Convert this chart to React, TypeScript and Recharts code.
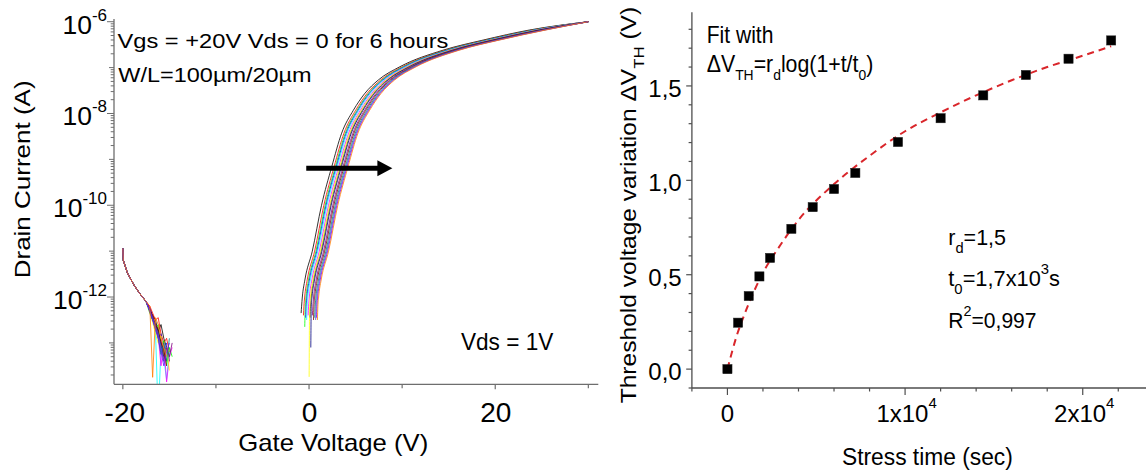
import { useLayoutEffect, useRef, useState } from "react";
import {
  ComposedChart,
  Line,
  ReferenceLine,
  Scatter,
  XAxis,
  YAxis,
} from "recharts";

const FONT = '"Liberation Sans", Arial, Helvetica, sans-serif';

// ---- left panel: transfer curves (Id vs Vg), one per stress step ----
const CURVE_COLORS = [
  "#000000", "#ff0000", "#00ff00", "#0000ff", "#00ffff",
  "#ff00ff", "#ffff00", "#808000", "#000080", "#800080",
  "#800000", "#008080", "#4060d0", "#8000ff", "#ff8000",
];
// threshold shift of each curve (V)
const CURVE_SHIFT = [0, 0.25, 0.39, 0.49, 0.59, 0.75, 0.86, 0.96, 1.04, 1.21, 1.33, 1.46, 1.56, 1.65, 1.75];

// on-branch of the unstressed curve: Vg (V) and log10(Id)
const ON_START_V = -0.85;
const ON_START_LOG = [-12.35, -12.4, -12.65, -12.45, -12.5, -12.4, -13.74, -12.45, -13.1, -12.4, -12.5, -12.45, -12.5, -12.45, -12.5];
const ON_V = [-0.8, -0.72, -0.45, 0.35, 1.34, 2.44, 3.5, 4.76, 6.0, 7.44, 9.77, 14.4, 18.7, 23.7];
const ON_LOG = [-12.2, -12.0, -11.63, -11.0, -10.0, -9.16, -8.43, -7.93, -7.56, -7.27, -6.98, -6.62, -6.4, -6.18];
const ON_END = { v: 30, log: -6.0 };

// off-branch (negative gate voltage), shared head and noisy tails
const OFF_HEAD_V = [-20.0, -19.95, -19.5, -18.8, -18.2, -17.5];
const OFF_HEAD_LOG = [-10.94, -11.2, -11.48, -11.74, -11.92, -12.1];
const TAIL_V = [-17.1, -16.8, -16.5, -16.2, -15.9, -15.6, -15.3, -15.0, -14.7];
const TAIL_LOG = [
  [-12.25, -12.4, -12.5, -12.75, -12.6, -12.9, -13.1, -13.4],
  [-12.2, -12.35, -12.5, -12.45, -12.8, -13.0, -12.9, -13.2],
  [-12.3, -12.45, -12.7, -12.6, -13.2, -12.95, -13.5, -13.1, -13.3],
  [-12.25, -12.45, -12.6, -12.9, -12.8, -13.3, -13.0],
  [-12.3, -12.5, -12.7, -14.6, -13.1, -13.35, -13.8, -13.2],
  [-12.3, -12.5, -12.7, -12.85, -13.5, -13.0, -13.85, -13.3, -13.1],
  [-12.35, -12.55, -12.8, -13.0, -12.85, -13.3, -13.1, -13.6],
  [-12.3, -12.45, -12.65, -12.8, -13.0, -13.2, -13.4],
  [-12.3, -12.5, -12.6, -12.75, -13.05, -13.3],
  [-12.25, -12.45, -12.6, -12.85, -12.95, -13.4, -13.1, -13.3, -13.0],
  [-12.3, -12.4, -12.6, -12.7, -13.0, -13.15, -13.5],
  [-12.35, -12.5, -12.7, -12.9, -13.25, -13.0, -13.4, -12.9],
  [-12.3, -12.45, -12.65, -12.8, -13.1, -13.4],
  [-12.3, -12.5, -12.7, -12.9, -13.2, -13.5, -13.2, -13.0],
  [-12.2, -13.75, -12.45, -12.6, -12.9, -13.1, -13.3],
];

const LEFT_X_LABELED = [-20, 0, 20];
const LEFT_X_MINOR = [-10, 10, 30];
const LEFT_Y_EXPONENTS = [-6, -8, -10, -12];
const ARROW_V = [-0.3, 8.95];
const ARROW_I = 6.4e-10;

// ---- right panel: threshold shift vs stress time ----
const STRESS_T = [0, 600, 1200, 1800, 2400, 3600, 4800, 6000, 7200, 9600, 12000, 14400, 16800, 19200, 21600];
const DVTH = [0, 0.246, 0.387, 0.491, 0.589, 0.743, 0.858, 0.954, 1.039, 1.203, 1.329, 1.45, 1.558, 1.644, 1.741];
const FIT_T = [0, 500, 1000, 2000, 3000, 4000, 6000, 8000, 10000, 12000, 14000, 16000, 18000, 20000, 21600];
const FIT_V = [0, 0.17, 0.3, 0.51, 0.66, 0.79, 0.98, 1.13, 1.26, 1.36, 1.45, 1.53, 1.6, 1.66, 1.71];

const RIGHT_Y_MAJOR = [0, 0.5, 1.0, 1.5];
const RIGHT_Y_LABELS = ["0,0", "0,5", "1,0", "1,5"];
const RIGHT_X_MAJOR = [0, 10000, 20000];
const RIGHT_X_LABELS = ["0", "1x10", "2x10"];
const RIGHT_X_EXP = ["", "4", "4"];

const LEFT_AXIS = "#6e6e6e";
const RIGHT_AXIS = "#4e4e4e";
const LEFT = { left: 114, bottom: 384.3 };
const RIGHT = { left: 91.9, bottom: 388 };

const onSeries = CURVE_SHIFT.map((s, k) => [
  { v: ON_START_V + s, i: Math.pow(10, ON_START_LOG[k]) },
  ...ON_V.map((v, j) => ({ v: v + s, i: Math.pow(10, ON_LOG[j]) })),
  { v: ON_END.v, i: Math.pow(10, ON_END.log) },
]);
const offSeries = TAIL_LOG.map((tail) => [
  ...OFF_HEAD_V.map((v, j) => ({ v, i: Math.pow(10, OFF_HEAD_LOG[j]) })),
  ...tail.map((l, j) => ({ v: TAIL_V[j], i: Math.pow(10, l) })),
]);

const yDomain: [number, number] = [1.253e-14, 1.146e-6];
const leftYTicks: number[] = [];
for (let e = -14; e <= -6; e++) {
  for (let m = 1; m <= 9; m++) {
    const val = m * Math.pow(10, e);
    if (val >= yDomain[0] && val <= yDomain[1]) leftYTicks.push(val);
  }
}

const dvthData = STRESS_T.map((t, i) => ({ t, v: DVTH[i] }));
const fitData = FIT_T.map((t, i) => ({ t, v: FIT_V[i] }));
const rightXTicks: number[] = [];
for (let t = -2000; t <= 24000; t += 2000) rightXTicks.push(t);
const rightYTicks: number[] = [];
for (let k = -1; k <= 18; k++) rightYTicks.push(k / 10);

function LeftXTick(props: any) {
  const { x, payload } = props;
  const v = payload.value;
  const labeled = LEFT_X_LABELED.includes(v);
  return (
    <g>
      <line x1={x} x2={x} y1={LEFT.bottom} y2={LEFT.bottom + (labeled ? 5 : 4)} stroke={LEFT_AXIS} strokeWidth={1.2} />
      {labeled && (
        <text x={x + (v < 0 ? 2 : 0.5)} y={422} textAnchor="middle" fontSize={28} fontFamily={FONT} fill="#000">
          {String(v)}
        </text>
      )}
    </g>
  );
}

function LeftYTick(props: any) {
  const { y, payload } = props;
  const val = payload.value;
  const e = Math.round(Math.log10(val));
  const decade = Math.abs(val / Math.pow(10, e) - 1) < 1e-6;
  const labeled = decade && LEFT_Y_EXPONENTS.includes(e);
  const len = labeled ? 7 : decade ? 5 : 3.3;
  return (
    <g>
      <line x1={LEFT.left - len} x2={LEFT.left} y1={y} y2={y} stroke={LEFT_AXIS} strokeWidth={1} />
      {labeled && (
        <text x={107} y={y + 12} textAnchor="end" fontSize={26.5} fontFamily={FONT} fill="#000">
          10
          <tspan dy={-13} fontSize={17}>
            {String(e)}
          </tspan>
        </text>
      )}
    </g>
  );
}

function RightXTick(props: any) {
  const { x, payload } = props;
  const idx = RIGHT_X_MAJOR.indexOf(payload.value);
  return (
    <g>
      <line x1={x} x2={x} y1={RIGHT.bottom} y2={RIGHT.bottom + (idx >= 0 ? 7 : 3.5)} stroke={RIGHT_AXIS} strokeWidth={1.2} />
      {idx >= 0 && (
        <text x={x + (idx > 0 ? 1.5 : 0)} y={422} textAnchor="middle" fontSize={24} fontFamily={FONT} fill="#000">
          {RIGHT_X_LABELS[idx]}
          {RIGHT_X_EXP[idx] && (
            <tspan dy={-14} fontSize={15}>
              {RIGHT_X_EXP[idx]}
            </tspan>
          )}
        </text>
      )}
    </g>
  );
}

function RightYTick(props: any) {
  const { y, payload } = props;
  const idx = RIGHT_Y_MAJOR.findIndex((m) => Math.abs(m - payload.value) < 1e-6);
  return (
    <g>
      <line x1={RIGHT.left - (idx >= 0 ? 5.7 : 3.3)} x2={RIGHT.left} y1={y} y2={y} stroke={RIGHT_AXIS} strokeWidth={1.2} />
      {idx >= 0 && (
        <text x={81.7} y={y + 11} textAnchor="end" fontSize={24} fontFamily={FONT} fill="#000">
          {RIGHT_Y_LABELS[idx]}
        </text>
      )}
    </g>
  );
}

function Arrow(props: any) {
  const { x1, y1, x2 } = props;
  return (
    <g>
      <line x1={x1} x2={x2 - 14} y1={y1} y2={y1} stroke="#000" strokeWidth={5} />
      <polygon points={`${x2 - 15},${y1 - 8} ${x2},${y1} ${x2 - 15},${y1 + 8}`} fill="#000" />
    </g>
  );
}

function Square(props: any) {
  const { cx, cy } = props;
  return <rect x={cx - 4.6} y={cy - 4.6} width={9.2} height={9.2} fill="#000" stroke="#222" strokeWidth={0.5} />;
}

// text squeezed or stretched to the width it has in the figure
function FitText({ x, y, w, size, rotate = 0, children }: any) {
  const ref = useRef<SVGTextElement>(null);
  const [k, setK] = useState(1);
  useLayoutEffect(() => {
    const n = ref.current ? ref.current.getComputedTextLength() : 0;
    if (n > 0) setK(w / n);
  }, [w]);
  return (
    <g transform={`translate(${x} ${y}) rotate(${rotate}) scale(${k} 1)`}>
      <text ref={ref} fontSize={size} fontFamily={FONT} fill="#000">
        {children}
      </text>
    </g>
  );
}

function LeftPanel() {
  return (
    <ComposedChart width={610} height={471} margin={{ top: 19, right: 11.7, bottom: 56.7, left: 0 }}>
      <XAxis
        type="number"
        dataKey="v"
        domain={[-20.95, 31.07]}
        allowDataOverflow
        ticks={[...LEFT_X_LABELED, ...LEFT_X_MINOR]}
        interval={0}
        tick={(p: any) => <LeftXTick {...p} />}
        tickLine={false}
        axisLine={{ stroke: LEFT_AXIS, strokeWidth: 1.3 }}
        height={30}
      />
      <XAxis xAxisId="top" orientation="top" type="number" domain={[0, 1]} tick={false} tickLine={false} axisLine={{ stroke: LEFT_AXIS, strokeWidth: 1.3 }} height={0} />
      <YAxis
        type="number"
        scale="log"
        dataKey="i"
        domain={yDomain}
        allowDataOverflow
        ticks={leftYTicks}
        interval={0}
        tick={(p: any) => <LeftYTick {...p} />}
        tickLine={false}
        axisLine={{ stroke: LEFT_AXIS, strokeWidth: 1.3 }}
        width={114}
      />
      <YAxis yAxisId="right" orientation="right" type="number" domain={[0, 1]} tick={false} tickLine={false} axisLine={{ stroke: LEFT_AXIS, strokeWidth: 1.3 }} width={0} />
      {offSeries.map((d, k) => (
        <Line
          key={`off${k}`}
          data={d}
          dataKey="i"
          type="linear"
          stroke={CURVE_COLORS[k]}
          strokeWidth={1}
          strokeOpacity={0.8}
          dot={false}
          isAnimationActive={false}
        />
      ))}
      {onSeries.map((d, k) => (
        <Line
          key={`on${k}`}
          data={d}
          dataKey="i"
          type="monotone"
          stroke={CURVE_COLORS[k]}
          strokeWidth={1}
          strokeOpacity={0.8}
          dot={false}
          isAnimationActive={false}
        />
      ))}
      <ReferenceLine
        segment={[
          { x: ARROW_V[0], y: ARROW_I },
          { x: ARROW_V[1], y: ARROW_I },
        ]}
        shape={(p: any) => <Arrow {...p} />}
      />
    </ComposedChart>
  );
}

function RightPanel() {
  return (
    <ComposedChart width={560} height={471} margin={{ top: 12.3, right: 6.2, bottom: 53, left: 0 }}>
      <XAxis
        type="number"
        dataKey="t"
        domain={[-2000, 24000]}
        allowDataOverflow
        ticks={rightXTicks}
        interval={0}
        tick={(p: any) => <RightXTick {...p} />}
        tickLine={false}
        axisLine={{ stroke: RIGHT_AXIS, strokeWidth: 1.3 }}
        height={30}
      />
      <XAxis xAxisId="top" orientation="top" type="number" domain={[0, 1]} tick={false} tickLine={false} axisLine={{ stroke: RIGHT_AXIS, strokeWidth: 1.3 }} height={0} />
      <YAxis
        type="number"
        dataKey="v"
        domain={[-0.1, 1.89]}
        allowDataOverflow
        ticks={rightYTicks}
        interval={0}
        tick={(p: any) => <RightYTick {...p} />}
        tickLine={false}
        axisLine={{ stroke: RIGHT_AXIS, strokeWidth: 1.3 }}
        width={91.9}
      />
      <Scatter data={dvthData} dataKey="v" shape={(p: any) => <Square {...p} />} isAnimationActive={false} />
      <Line
        data={fitData}
        dataKey="v"
        type="monotone"
        stroke="#d9262b"
        strokeWidth={2}
        strokeDasharray="7 5"
        dot={false}
        isAnimationActive={false}
      />
    </ComposedChart>
  );
}

export default function App() {
  return (
    <div
      style={{
        position: "absolute",
        left: 0,
        top: 0,
        width: 1146,
        height: 471,
        overflow: "hidden",
        background: "#fff",
        fontFamily: FONT,
      }}
    >
      <div style={{ position: "absolute", left: 0, top: 0 }}>
        <LeftPanel />
      </div>
      <div style={{ position: "absolute", left: 600, top: 0 }}>
        <RightPanel />
      </div>
      <svg width={1146} height={471} style={{ position: "absolute", left: 0, top: 0, pointerEvents: "none" }}>
        <FitText x={117.5} y={47.5} w={331} size={20}>
          Vgs = +20V Vds = 0 for 6 hours
        </FitText>
        <FitText x={118.3} y={81.7} w={193.4} size={21}>
          W/L=100µm/20µm
        </FitText>
        <FitText x={461} y={350} w={92.3} size={24}>
          Vds = 1V
        </FitText>
        <FitText x={238.3} y={451} w={190} size={23}>
          Gate Voltage (V)
        </FitText>
        <FitText x={29.5} y={278.3} w={198} size={22} rotate={-90}>
          Drain Current (A)
        </FitText>

        <FitText x={706.7} y={43.3} w={66.7} size={23}>
          Fit with
        </FitText>
        <FitText x={706.7} y={71.7} w={166.7} size={23}>
          ΔV
          <tspan dy={8} fontSize={15}>TH</tspan>
          <tspan dy={-8}>=r</tspan>
          <tspan dy={8} fontSize={15}>d</tspan>
          <tspan dy={-8}>log(1+t/t</tspan>
          <tspan dy={8} fontSize={15}>0</tspan>
          <tspan dy={-8}>)</tspan>
        </FitText>
        <FitText x={948.3} y={245} w={57.7} size={22}>
          r
          <tspan dy={8} fontSize={15}>d</tspan>
          <tspan dy={-8}>=1,5</tspan>
        </FitText>
        <FitText x={948.3} y={286} w={111.7} size={22}>
          t
          <tspan dy={8} fontSize={15}>0</tspan>
          <tspan dy={-8}>=1,7x10</tspan>
          <tspan dy={-12} fontSize={15}>3</tspan>
          <tspan dy={12}>s</tspan>
        </FitText>
        <FitText x={948.3} y={328.3} w={88.3} size={22}>
          R
          <tspan dy={-12} fontSize={15}>2</tspan>
          <tspan dy={12}>=0,997</tspan>
        </FitText>
        <FitText x={842} y={465} w={171} size={23}>
          Stress time  (sec)
        </FitText>
        <FitText x={635.5} y={403.3} w={396.6} size={22} rotate={-90}>
          Threshold voltage variation ΔV
          <tspan dy={8} fontSize={15}>TH</tspan>
          <tspan dy={-8}> (V)</tspan>
        </FitText>
      </svg>
    </div>
  );
}
